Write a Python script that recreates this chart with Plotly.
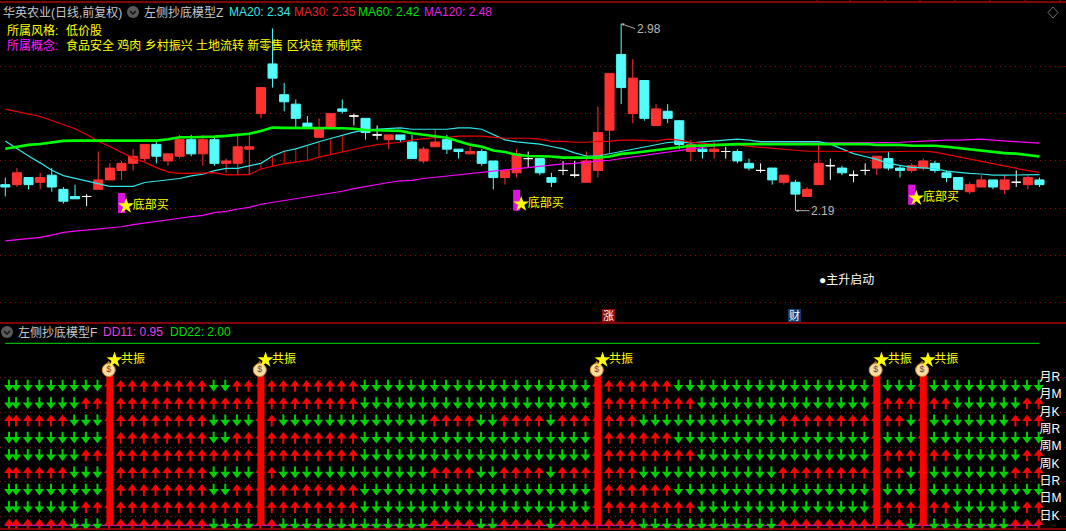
import plotly.graph_objects as go

W, H = 1066, 531

# daily bars
opens = [2.30,2.30,2.33,2.31,2.34,2.28,2.25,2.25,2.28,2.32,2.36,2.39,2.41,2.47,2.40,2.42,2.49,2.43,2.49,2.39,
         2.39,2.45,2.60,2.81,2.68,2.64,2.56,2.50,2.54,2.62,2.59,2.58,2.51,2.49,2.51,2.48,2.40,2.46,2.49,2.45,
         2.43,2.44,2.40,2.33,2.35,2.41,2.41,2.33,2.36,2.34,2.31,2.36,2.53,2.85,2.60,2.74,2.55,2.61,2.57,2.44,
         2.45,2.44,2.44,2.44,2.39,2.36,2.37,2.31,2.31,2.25,2.30,2.38,2.37,2.34,2.36,2.37,2.41,2.37,2.36,2.37,
         2.39,2.35,2.33,2.27,2.29,2.32,2.28,2.31,2.30,2.32]
highs = [2.33,2.37,2.33,2.35,2.37,2.29,2.30,2.26,2.44,2.39,2.40,2.45,2.47,2.49,2.43,2.51,2.51,2.51,2.50,2.41,
         2.51,2.51,2.71,2.96,2.73,2.66,2.59,2.58,2.60,2.66,2.60,2.58,2.55,2.51,2.51,2.51,2.46,2.53,2.51,2.45,
         2.46,2.45,2.40,2.36,2.45,2.44,2.41,2.35,2.40,2.40,2.44,2.63,2.77,2.98,2.83,2.74,2.64,2.64,2.57,2.49,
         2.46,2.48,2.46,2.45,2.41,2.39,2.37,2.34,2.32,2.29,2.47,2.41,2.38,2.36,2.39,2.42,2.44,2.38,2.39,2.41,
         2.40,2.36,2.33,2.31,2.34,2.32,2.34,2.36,2.34,2.33]
lows = [2.25,2.29,2.28,2.28,2.27,2.22,2.24,2.21,2.28,2.32,2.32,2.36,2.40,2.39,2.38,2.41,2.42,2.38,2.38,2.35,
        2.34,2.34,2.58,2.71,2.61,2.54,2.54,2.50,2.54,2.60,2.55,2.49,2.49,2.45,2.48,2.41,2.39,2.46,2.43,2.41,
        2.43,2.38,2.28,2.30,2.33,2.37,2.34,2.29,2.34,2.33,2.31,2.33,2.43,2.64,2.56,2.57,2.55,2.56,2.45,2.40,
        2.41,2.41,2.41,2.39,2.36,2.35,2.30,2.30,2.19,2.25,2.30,2.32,2.34,2.31,2.34,2.34,2.36,2.33,2.35,2.36,
        2.35,2.31,2.28,2.26,2.29,2.28,2.26,2.29,2.28,2.29]
closes = [2.29,2.35,2.30,2.33,2.29,2.23,2.24,2.25,2.32,2.37,2.39,2.42,2.47,2.42,2.43,2.49,2.43,2.49,2.39,2.40,
          2.46,2.46,2.71,2.75,2.65,2.58,2.54,2.54,2.60,2.61,2.59,2.52,2.51,2.51,2.49,2.41,2.45,2.48,2.45,2.44,
          2.44,2.39,2.33,2.36,2.43,2.41,2.35,2.31,2.36,2.34,2.40,2.52,2.77,2.71,2.75,2.58,2.62,2.58,2.47,2.47,
          2.44,2.45,2.44,2.40,2.37,2.36,2.32,2.34,2.26,2.28,2.39,2.38,2.35,2.34,2.36,2.42,2.37,2.36,2.38,2.40,
          2.36,2.33,2.28,2.30,2.32,2.29,2.32,2.31,2.33,2.30]

ma20 = [2.484,2.451,2.421,2.392,2.361,2.338,2.327,2.313,2.302,2.293,2.293,2.293,2.309,2.314,2.321,2.326,2.337,2.344,2.359,2.369,
        2.369,2.381,2.39,2.421,2.441,2.451,2.467,2.481,2.495,2.51,2.522,2.531,2.534,2.534,2.54,2.534,2.534,2.534,2.534,2.54,
        2.54,2.534,2.51,2.489,2.481,2.475,2.471,2.461,2.451,2.434,2.421,2.421,2.431,2.441,2.451,2.461,2.471,2.478,2.481,2.476,
        2.481,2.484,2.488,2.492,2.488,2.482,2.482,2.482,2.482,2.482,2.482,2.471,2.451,2.431,2.419,2.407,2.39,2.381,2.373,2.371,
        2.368,2.357,2.351,2.348,2.345,2.34,2.34,2.34,2.342,2.342]
ma30 = [2.619,2.609,2.599,2.588,2.571,2.554,2.536,2.512,2.483,2.461,2.437,2.412,2.395,2.372,2.354,2.348,2.348,2.348,2.351,2.341,
        2.342,2.342,2.366,2.379,2.389,2.395,2.402,2.416,2.427,2.44,2.448,2.46,2.469,2.474,2.479,2.489,2.495,2.499,2.5,2.505,
        2.505,2.505,2.5,2.496,2.496,2.496,2.492,2.483,2.483,2.479,2.479,2.483,2.483,2.488,2.488,2.486,2.485,2.492,2.488,2.479,
        2.474,2.47,2.47,2.469,2.462,2.458,2.454,2.451,2.445,2.441,2.441,2.441,2.441,2.44,2.437,2.437,2.437,2.44,2.441,2.441,
        2.437,2.427,2.417,2.409,2.396,2.386,2.376,2.368,2.359,2.352]
ma60 = [2.452,2.46,2.468,2.472,2.478,2.485,2.486,2.486,2.486,2.486,2.486,2.486,2.486,2.486,2.492,2.5,2.5,2.5,2.503,2.506,
        2.512,2.515,2.527,2.541,2.54,2.54,2.54,2.54,2.54,2.538,2.536,2.531,2.53,2.529,2.527,2.517,2.51,2.506,2.498,2.483,
        2.469,2.46,2.444,2.438,2.426,2.421,2.421,2.419,2.414,2.414,2.414,2.414,2.419,2.43,2.434,2.44,2.444,2.451,2.455,2.464,
        2.465,2.468,2.469,2.471,2.471,2.471,2.472,2.472,2.472,2.472,2.472,2.472,2.472,2.472,2.472,2.468,2.468,2.468,2.464,2.464,
        2.464,2.46,2.454,2.448,2.443,2.437,2.433,2.431,2.426,2.419]
ma120 = [2.062,2.067,2.072,2.077,2.087,2.098,2.104,2.108,2.114,2.118,2.122,2.131,2.137,2.144,2.151,2.158,2.165,2.17,2.182,2.187,
         2.197,2.204,2.217,2.225,2.232,2.239,2.249,2.255,2.262,2.272,2.283,2.292,2.302,2.309,2.316,2.318,2.326,2.331,2.338,2.342,
         2.348,2.354,2.359,2.362,2.368,2.373,2.376,2.383,2.388,2.39,2.393,2.399,2.403,2.41,2.419,2.426,2.431,2.438,2.445,2.451,
         2.457,2.465,2.468,2.471,2.474,2.475,2.475,2.475,2.475,2.478,2.478,2.478,2.478,2.478,2.478,2.478,2.478,2.479,2.482,2.483,
         2.486,2.488,2.488,2.491,2.492,2.488,2.485,2.479,2.479,2.475]

# thin red sticks between MA30 and MA20
stick_bars = [20,21,22,23,24,25,26,27,28,29]

# magenta buy signal bars
signal_bars = [10,44,78]
signal_tops = [2.265,2.278,2.30]
signal_bottoms = [2.18,2.19,2.215]
signal_star_y = [2.21,2.218,2.243]
gridlines_main = [1.8,2.0,2.2,2.4,2.6,2.8]

# lower panel, 1 = red up arrow, 0 = green down arrow
row_r = [0,0,0,0,0,0,0,0,0,1,1,1,1,1,1,1,1,1,0,0,1,1,1,1,1,1,1,1,1,1,1,
         0,0,0,0,0,0,0,0,0,0,0,0,0,0,0,0,0,0,0,0,1,1,1,1,1,1,1,0,0,0,
         0,0,0,0,0,0,0,0,0,0,0,0,0,0,1,0,0,0,1,0,0,0,0,0,0,0,0,0,0]
row_m = [0,0,0,0,0,0,0,1,1,1,1,1,1,1,1,1,1,1,1,1,1,1,1,1,1,1,1,1,1,1,1,
         0,0,0,0,0,0,0,0,0,0,0,0,0,0,0,0,0,0,0,0,1,1,1,1,1,1,1,1,1,0,
         0,0,0,0,0,0,0,0,0,0,0,0,0,0,1,1,1,1,1,1,1,0,0,0,0,0,0,1,1]
row_k = [1,1,1,1,1,1,0,0,0,1,1,1,1,1,1,1,1,1,0,0,0,0,1,1,0,0,0,0,0,0,0,
         0,0,0,0,0,0,1,1,1,1,0,0,1,1,1,1,0,1,1,1,1,1,1,1,0,0,0,0,0,0,
         0,0,0,0,0,0,1,1,1,1,1,1,1,1,1,1,1,0,1,0,0,0,0,0,0,0,1,1,1]
row_patterns = [row_r,row_m,row_k,row_r,row_m,row_k,row_r,row_m,row_k]
row_values = [1.755,1.655,1.555,1.455,1.355,1.255,1.155,1.055,0.955]
row_labels = ["月R","月M","月K","周R","周M","周K","日R","日M","日K"]
label_values = [1.8,1.7,1.6,1.5,1.4,1.3,1.2,1.1,1.0]
gridlines_low = [1.0,1.2,1.4,1.6,1.8]

dd11 = [0.95]*90
dd22 = [2.00]*90
column_bars = [9,22,51,75,79]
column_top = 1.817
star_level = 1.904
bag_level = 1.846

n = len(closes)
bars = list(range(n))
for s in [opens,highs,lows,ma20,ma30,ma60,ma120,row_r,row_m,row_k]:
    assert len(s) == n, len(s)

# pixel scale of the picture
PX_BAR = 11.62
X0 = 5.3
PX_PRICE = 236.7
PX_DD = 173.3
xr = [-X0/PX_BAR, (W-X0)/PX_BAR]
price_range = [2.2-(323-208.3)/PX_PRICE, 2.8+(66.3-3)/PX_PRICE]
dd_range = [0.95-(529-525.3)/PX_DD, 2.0+(343.3-323)/PX_DD]

RED = "#ff3232"
CYAN = "#54fcfc"
CN = "Liberation Sans, Noto Sans CJK SC"

fig = go.Figure()

solid = [i for i in bars if opens[i] != closes[i]]
doji = [i for i in bars if opens[i] == closes[i]]
fig.add_trace(go.Candlestick(x=solid, open=[opens[i] for i in solid], high=[highs[i] for i in solid],
                             low=[lows[i] for i in solid], close=[closes[i] for i in solid],
                             increasing=dict(line=dict(color=RED, width=1), fillcolor=RED),
                             decreasing=dict(line=dict(color=CYAN, width=1), fillcolor=CYAN),
                             whiskerwidth=0, showlegend=False))
fig.add_trace(go.Candlestick(x=doji, open=[opens[i] for i in doji], high=[highs[i] for i in doji],
                             low=[lows[i] for i in doji], close=[closes[i] for i in doji],
                             increasing=dict(line=dict(color="white", width=1), fillcolor="white"),
                             decreasing=dict(line=dict(color="white", width=1), fillcolor="white"),
                             whiskerwidth=0, showlegend=False))

# sticks
sx, sy = [], []
for i in stick_bars:
    sx += [i, i, None]
    sy += [ma30[i], ma20[i], None]
fig.add_trace(go.Scatter(x=sx, y=sy, mode="lines", line=dict(color="#e81010", width=1), showlegend=False))

for vals, col, wd in [(ma120,"#ff00ff",1.2),(ma20,"#30e8e8",1.2),(ma30,"#f00000",1.2),(ma60,"#00ff00",2.6)]:
    fig.add_trace(go.Scatter(x=bars, y=vals, mode="lines", line=dict(color=col, width=wd), showlegend=False))

# buy signals
fig.add_trace(go.Bar(x=signal_bars, y=[t-b for t, b in zip(signal_tops, signal_bottoms)], base=signal_bottoms,
                     width=0.6, marker=dict(color="#e010e0", line=dict(width=0)), showlegend=False))
fig.add_trace(go.Scatter(x=[i+0.4 for i in signal_bars], y=signal_star_y, mode="markers",
                         marker=dict(symbol="star", size=12, color="#ffff00", line=dict(width=0)), showlegend=False))
fig.add_trace(go.Scatter(x=[i+0.97 for i in signal_bars], y=signal_star_y, mode="text",
                         text=["底部买"]*3, textposition="middle right",
                         textfont=dict(family=CN, size=12, color="#ffff00"), showlegend=False))

# lower panel lines
fig.add_trace(go.Scatter(x=bars, y=dd22, yaxis="y2", mode="lines", line=dict(color="#00e000", width=1), showlegend=False))
fig.add_trace(go.Scatter(x=bars, y=dd11, yaxis="y2", mode="lines", line=dict(color="#e020e0", width=1), showlegend=False))

# arrows, drawn per row: triangle head plus stem
arrow_x = [0.32] + [i-0.07 for i in bars[1:]]
ux, uy, dx, dy = [], [], [], []
usx, usy, dsx, dsy = [], [], [], []
for rv, pat in zip(row_values, row_patterns):
    for i, up in enumerate(pat):
        if up:
            ux.append(arrow_x[i]); uy.append(rv+1.5/PX_DD)
            usx += [arrow_x[i], arrow_x[i], None]; usy += [rv+1/PX_DD, rv-6/PX_DD, None]
        else:
            dx.append(arrow_x[i]); dy.append(rv-1.5/PX_DD)
            dsx += [arrow_x[i], arrow_x[i], None]; dsy += [rv-1/PX_DD, rv+6/PX_DD, None]
fig.add_trace(go.Scatter(x=usx, y=usy, yaxis="y2", mode="lines", line=dict(color="#ff0000", width=2), showlegend=False))
fig.add_trace(go.Scatter(x=dsx, y=dsy, yaxis="y2", mode="lines", line=dict(color="#00d000", width=2), showlegend=False))
fig.add_trace(go.Scatter(x=ux, y=uy, yaxis="y2", mode="markers", marker=dict(symbol="triangle-up", size=8.6, color="#ff0000", line=dict(width=0)), showlegend=False))
fig.add_trace(go.Scatter(x=dx, y=dy, yaxis="y2", mode="markers", marker=dict(symbol="triangle-down", size=8.6, color="#00d000", line=dict(width=0)), showlegend=False))

# resonance columns, money bag and star
fig.add_trace(go.Bar(x=column_bars, y=[column_top-dd11[i] for i in column_bars], base=[dd11[i] for i in column_bars],
                     yaxis="y2", width=0.6, marker=dict(color="#ff0000", line=dict(width=0)), showlegend=False))
fig.add_trace(go.Scatter(x=[i-0.1 for i in column_bars], y=[bag_level+0.035]*5, yaxis="y2", mode="markers",
                         marker=dict(symbol="triangle-up", size=7, color="#a06030"), showlegend=False))
fig.add_trace(go.Scatter(x=[i-0.1 for i in column_bars], y=[bag_level]*5, yaxis="y2", mode="markers+text",
                         text=["$"]*5, textposition="middle center",
                         textfont=dict(family="Liberation Sans", size=9, color="#803820"),
                         marker=dict(symbol="circle", size=13, color="#f8e0a0", line=dict(color="#d09030", width=1)),
                         showlegend=False))
fig.add_trace(go.Scatter(x=[i+0.4 for i in column_bars], y=[star_level]*5, yaxis="y2", mode="markers",
                         marker=dict(symbol="star", size=12, color="#ffff00", line=dict(width=0)), showlegend=False))
fig.add_trace(go.Scatter(x=[i+0.95 for i in column_bars], y=[star_level]*5, yaxis="y2", mode="text",
                         text=["共振"]*5, textposition="middle right",
                         textfont=dict(family=CN, size=12, color="#ffff00"), showlegend=False))

fig.add_trace(go.Scatter(x=[89.0]*9, y=label_values, yaxis="y2", mode="text", text=row_labels, textposition="middle right",
                         textfont=dict(family=CN, size=12, color="white"), showlegend=False))


def xp(px):
    return px/W


def yp(py):
    return 1-py/H


def label(px, py, text, color, size=12):
    fig.add_annotation(x=xp(px), y=yp(py), xref="paper", yref="paper", text=text, showarrow=False, xanchor="left",
                       yanchor="middle", font=dict(family=CN, size=size, color=color), borderpad=0, borderwidth=0)


label(3, 12, "华英农业(日线,前复权)", "#c8c8c8")
label(144, 12, "左侧抄底模型Z", "#c8c8c8")
label(229, 12, "MA20: 2.34", "#30e8e8")
label(294, 12, "MA30: 2.35", "#f02020")
label(358, 12, "MA60: 2.42", "#00e000")
label(424, 12, "MA120: 2.48", "#e020e0")
label(7, 31, "所属风格:", "#ffff00")
label(66, 31, "低价股", "#ffff00")
label(7, 45, "所属概念:", "#ff20ff")
label(66, 45, "食品安全 鸡肉 乡村振兴 土地流转 新零售 区块链 预制菜", "#ffff00")
label(819, 280, "●主升启动", "#ffffff")
label(18, 332, "左侧抄底模型F", "#c8c8c8")
label(102.5, 332, "DD11: 0.95", "#e040e0")
label(170, 332, "DD22: 2.00", "#00e000")

# high and low flags
fig.add_annotation(x=53, y=2.98, text="2.98", ax=14, ay=5, xanchor="left", showarrow=True, arrowcolor="#b0b0b0",
                   arrowhead=2, arrowwidth=1, arrowsize=0.6, font=dict(family=CN, size=12, color="#b8b8b8"), yref="y")
fig.add_annotation(x=68, y=2.19, text="2.19", ax=14, ay=0, xanchor="left", showarrow=True, arrowcolor="#b0b0b0",
                   arrowhead=2, arrowwidth=1, arrowsize=0.6, font=dict(family=CN, size=12, color="#b8b8b8"), yref="y")

# small tags above the divider
for px0, txt, bg in [(602, "涨", "#8c0c0c"), (788, "财", "#0c3c74")]:
    fig.add_shape(type="rect", xref="paper", yref="paper", x0=xp(px0), x1=xp(px0+13), y0=yp(322), y1=yp(309),
                  fillcolor=bg, line=dict(width=0))
    fig.add_annotation(x=xp(px0+6.5), y=yp(315.5), xref="paper", yref="paper", text=txt, showarrow=False,
                       xanchor="center", yanchor="middle", font=dict(family=CN, size=11, color="white"))

# frame lines
for py in [2, 323, 529]:
    fig.add_shape(type="line", xref="paper", yref="paper", x0=0, x1=1, y0=yp(py), y1=yp(py),
                  line=dict(color="#a80808", width=1.5))
for px in [817, 850, 885, 920, 955, 990, 1025, 1060]:
    fig.add_shape(type="line", xref="paper", yref="paper", x0=xp(px), x1=xp(px), y0=yp(0), y1=yp(2),
                  line=dict(color="#a80808", width=1))

# collapse buttons and diamond
for cx, cy in [(133, 12), (7, 332)]:
    fig.add_shape(type="circle", xref="paper", yref="paper", x0=xp(cx-6), x1=xp(cx+6), y0=yp(cy+6), y1=yp(cy-6),
                  fillcolor="#5a5a5a", line=dict(width=0))
    fig.add_shape(type="path", xref="paper", yref="paper",
                  path=f"M {xp(cx-3)} {yp(cy-1)} L {xp(cx)} {yp(cy+2)} L {xp(cx+3)} {yp(cy-1)}",
                  line=dict(color="#111111", width=1.5))
fig.add_shape(type="path", xref="paper", yref="paper",
              path=f"M {xp(1053)} {yp(7)} L {xp(1058)} {yp(12.5)} L {xp(1053)} {yp(18)} L {xp(1048)} {yp(12.5)} Z",
              line=dict(color="#707070", width=1))

axis_common = dict(showticklabels=False, ticks="", showline=False, zeroline=False, fixedrange=True)
fig.update_layout(
    width=W, height=H, margin=dict(l=0, r=0, t=0, b=0), paper_bgcolor="black", plot_bgcolor="black",
    showlegend=False, hovermode=False, barmode="overlay", boxgap=0.22, boxgroupgap=0,
    xaxis=dict(range=xr, domain=[0, 1], showgrid=False, rangeslider=dict(visible=False), anchor="y", **axis_common),
    yaxis=dict(range=price_range, domain=[1-323/H, 1-3/H], showgrid=True, tickvals=gridlines_main,
               gridcolor="#901010", griddash="1px,4px", gridwidth=1, **axis_common),
    yaxis2=dict(range=dd_range, domain=[1-529/H, 1-323/H], showgrid=True, tickvals=gridlines_low,
                gridcolor="#901010", griddash="1px,4px", gridwidth=1, **axis_common),
)

# page margin off so the figure sits at the window corner, no modebar
fig.write_html("out.html", config={"displayModeBar": False},
               post_script="document.body.style.margin='0';document.body.style.background='black';")
